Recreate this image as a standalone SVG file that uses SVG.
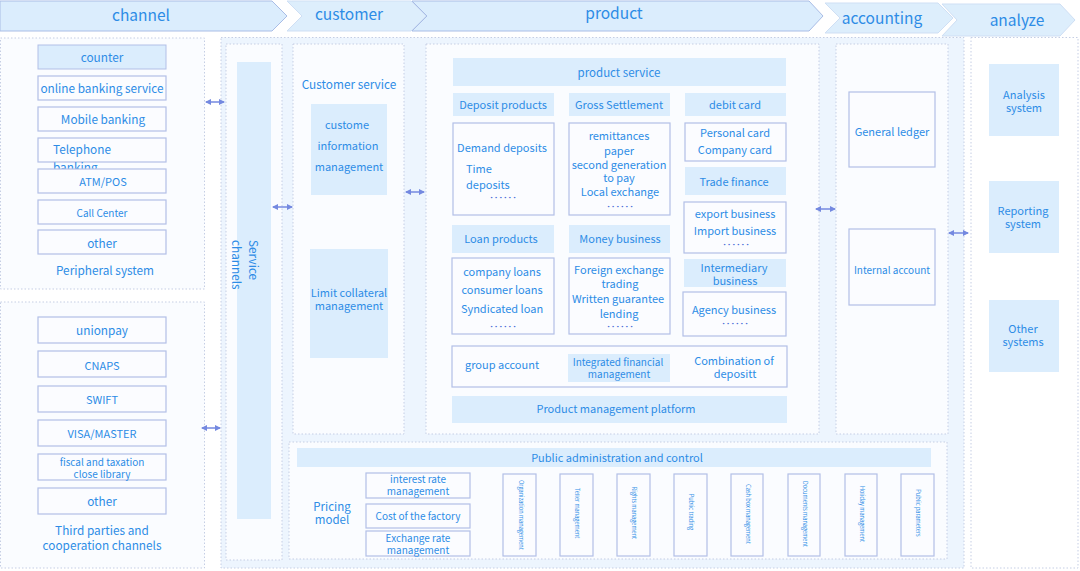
<svg xmlns="http://www.w3.org/2000/svg" width="1080" height="571" viewBox="0 0 1080 571">
<defs>
<style>
text{font-family:"Noto Sans CJK SC","Noto Sans",Lato,sans-serif;fill:#2d8ce6;text-anchor:middle;dominant-baseline:central}
.hd{font-size:15.5px}
.t13{font-size:11.8px}
.t12{font-size:11.5px}
.t11{font-size:11px}
.t10{font-size:10px}
.dots{font-family:Lato,"Liberation Sans",sans-serif;font-size:10px;letter-spacing:2px;fill:#4a6fd8}
.tv{font-size:5.6px}
.panel{fill:#fafcff;stroke:#c5cee4;stroke-width:1;stroke-dasharray:1.5 2}
.outer{fill:#edf5fe;stroke:#c5cee4;stroke-width:1;stroke-dasharray:1.5 2}
.fill{fill:#dbedfd}
.fillb{fill:#dbedfd;stroke:#b2bfe7;stroke-width:1}
.box{fill:#fbfcff;stroke:#b2bfe7;stroke-width:1.2}
.chA{fill:#dbedfd;stroke:#a9bde6;stroke-width:1}
.chB{fill:#ddeefc;stroke:#cfdff4;stroke-width:1}
.conn{stroke:#7489e0;stroke-width:1.5;fill:none;marker-start:url(#ah);marker-end:url(#ah)}
</style>
<marker id="ah" viewBox="0 0 6 6" refX="5" refY="3" markerWidth="4" markerHeight="4" orient="auto-start-reverse">
<path d="M0,0 L6,3 L0,6 Z" fill="#7489e0"/>
</marker>
</defs>

<g id="header">
<path class="chA" d="M0,1 H272 L287,16 L272,31 H0 Z"/>
<text class="hd" x="141" y="14">channel</text>
<path class="chB" d="M287,1 H411 L426,16 L411,31 H287 L302,16 Z"/>
<text class="hd" x="349" y="13">customer</text>
<path class="chA" d="M412,1 H809 L823,16 L809,31 H412 L427,16 Z"/>
<text class="hd" x="614" y="12">product</text>
<path class="chB" d="M825,3 H938 L953,18 L938,33 H825 L840,18 Z"/>
<text class="hd" x="882" y="17">accounting</text>
<path class="chB" d="M942,4 H1060 L1075,20 L1060,36 H942 L957,20 Z"/>
<text class="hd" x="1017" y="19">analyze</text>
</g>

<g id="peripheral">
<rect class="panel" x="0.5" y="38" width="204" height="251"/>
<rect class="fillb" x="38" y="45" width="128" height="24"/><text class="t13" x="102" y="56">counter</text>
<rect class="box" x="38" y="76" width="128" height="24"/><text class="t13" x="102" y="87">online banking service</text>
<rect class="box" x="38" y="107" width="128" height="24"/><text class="t13" x="103" y="118">Mobile banking</text>
<rect class="box" x="38" y="138" width="128" height="24"/><text class="t13" x="53" y="148" style="text-anchor:start">Telephone</text><text class="t13" x="53" y="166" style="text-anchor:start">banking</text>
<rect class="box" x="38" y="169" width="128" height="24"/><text class="t11" x="103" y="181">ATM/POS</text>
<rect class="box" x="38" y="200" width="128" height="24"/><text class="t10" x="102" y="212">Call Center</text>
<rect class="box" x="38" y="230" width="128" height="24"/><text class="t13" x="102" y="242">other</text>
<text class="t13" x="105" y="269">Peripheral system</text>
</g>

<g id="third-parties">
<rect class="panel" x="0.5" y="302" width="204" height="266"/>
<rect class="box" x="38" y="317" width="128" height="26"/><text class="t13" x="102" y="329">unionpay</text>
<rect class="box" x="38" y="351" width="128" height="26"/><text class="t11" x="102" y="365">CNAPS</text>
<rect class="box" x="38" y="386" width="128" height="26"/><text class="t11" x="102" y="399">SWIFT</text>
<rect class="box" x="38" y="420" width="128" height="26"/><text class="t11" x="102" y="433">VISA/MASTER</text>
<rect class="box" x="38" y="454" width="128" height="26"/><text class="t10" x="102" y="461">fiscal and taxation</text><text class="t10" x="102" y="473">close library</text>
<rect class="box" x="38" y="488" width="128" height="26"/><text class="t13" x="102" y="500">other</text>
<text class="t13" x="102" y="529">Third parties and</text>
<text class="t13" x="102" y="544">cooperation channels</text>
</g>

<g id="core">
<rect class="outer" x="221" y="37.5" width="743" height="530.5"/>
</g>

<g id="service-channels">
<rect class="panel" x="226" y="44" width="56" height="516"/>
<rect class="fill" x="237" y="62" width="34" height="457"/>
<text class="t13" transform="translate(249,240) rotate(90)" style="text-anchor:start;dominant-baseline:auto"><tspan x="0" y="0">Service</tspan><tspan x="0" y="17">channels</tspan></text>
</g>

<g id="customer">
<rect class="panel" x="293" y="44" width="111" height="390"/>
<text class="t13" x="349" y="83">Customer service</text>
<rect class="fill" x="311" y="104" width="76" height="91"/>
<text class="t11" x="347" y="124">custome</text>
<text class="t11" x="348" y="145">information</text>
<text class="t11" x="349" y="166">management</text>
<rect class="fill" x="310" y="249" width="78" height="109"/>
<text class="t11" x="349" y="292">Limit collateral</text>
<text class="t11" x="349" y="305">management</text>
</g>

<g id="product">
<rect class="panel" x="426" y="44" width="393" height="390"/>
<rect class="fill" x="453" y="58" width="333" height="28"/><text class="t12" x="619" y="72">product service</text>
<rect class="fill" x="453" y="93" width="101" height="23"/><text class="t11" x="503" y="104">Deposit products</text>
<rect class="fill" x="569" y="93" width="101" height="23"/><text class="t11" x="619" y="104">Gross Settlement</text>
<rect class="fill" x="685" y="93" width="101" height="23"/><text class="t11" x="735" y="104">debit card</text>
<rect class="box" x="453" y="123" width="101" height="92"/>
<text class="t11" x="502" y="147">Demand deposits</text>
<text class="t11" x="466" y="168" style="text-anchor:start">Time</text>
<text class="t11" x="466" y="184" style="text-anchor:start">deposits</text>
<text class="dots" x="504" y="196">······</text>
<rect class="box" x="569" y="123" width="101" height="92"/>
<text class="t11" x="619" y="135">remittances</text>
<text class="t11" x="619" y="150">paper</text>
<text class="t11" x="619" y="164">second generation</text>
<text class="t11" x="619" y="177">to pay</text>
<text class="t11" x="620" y="191">Local exchange</text>
<text class="dots" x="621" y="205">······</text>
<rect class="box" x="685" y="123" width="101" height="38"/>
<text class="t11" x="735" y="132">Personal card</text>
<text class="t11" x="735" y="149">Company card</text>
<rect class="fill" x="685" y="167" width="101" height="28"/><text class="t11" x="734" y="181">Trade finance</text>
<rect class="box" x="684" y="202" width="102" height="51"/>
<text class="t11" x="735" y="213">export business</text>
<text class="t11" x="735" y="230">Import business</text>
<text class="dots" x="737" y="243">······</text>
<rect class="fill" x="452" y="225" width="102" height="28"/><text class="t11" x="501" y="238">Loan products</text>
<rect class="fill" x="569" y="225" width="101" height="28"/><text class="t11" x="620" y="238">Money business</text>
<rect class="fill" x="684" y="259" width="102" height="28"/><text class="t11" x="734" y="267">Intermediary</text><text class="t11" x="735" y="280">business</text>
<rect class="box" x="452" y="258" width="102" height="76"/>
<text class="t11" x="502" y="271">company loans</text>
<text class="t11" x="502" y="289">consumer loans</text>
<text class="t11" x="502" y="308">Syndicated loan</text>
<text class="dots" x="504" y="325">······</text>
<rect class="box" x="569" y="258" width="101" height="76"/>
<text class="t11" x="619" y="269">Foreign exchange</text>
<text class="t11" x="620" y="283">trading</text>
<text class="t11" x="618" y="298">Written guarantee</text>
<text class="t11" x="619" y="313">lending</text>
<text class="dots" x="621" y="325">······</text>
<rect class="box" x="683" y="292" width="103" height="44"/>
<text class="t11" x="734" y="309">Agency business</text>
<text class="dots" x="736" y="322">······</text>
<rect class="box" x="452" y="346" width="335" height="41"/>
<text class="t11" x="502" y="364">group account</text>
<rect class="fill" x="568" y="354" width="102" height="28"/>
<text class="t10" x="618" y="361">Integrated financial</text>
<text class="t10" x="619" y="373">management</text>
<text class="t11" x="734" y="360">Combination of</text>
<text class="t11" x="735" y="373">depositt</text>
<rect class="fill" x="452" y="396" width="335" height="27"/><text class="t11" x="616" y="408">Product management platform</text>
</g>

<g id="accounting">
<rect class="panel" x="836" y="44" width="112" height="390"/>
<rect class="box" x="849" y="92" width="86" height="75"/><text class="t11" x="892" y="131">General ledger</text>
<rect class="box" x="849" y="229" width="86" height="76"/><text class="t10" x="892" y="269">Internal account</text>
</g>

<g id="analyze">
<rect class="panel" x="971" y="37.5" width="107" height="530.5" style="fill:#ffffff"/>
<rect class="fill" x="989" y="64" width="70" height="72"/><text class="t11" x="1024" y="94">Analysis</text><text class="t11" x="1024" y="107">system</text>
<rect class="fill" x="989" y="181" width="70" height="72"/><text class="t11" x="1023" y="210">Reporting</text><text class="t11" x="1023" y="223">system</text>
<rect class="fill" x="989" y="300" width="70" height="72"/><text class="t11" x="1023" y="328">Other</text><text class="t11" x="1023" y="341">systems</text>
</g>

<g id="public-admin">
<rect class="panel" x="289" y="442" width="658" height="117"/>
<rect class="fill" x="297" y="448" width="634" height="19"/><text class="t11" x="617" y="457">Public administration and control</text>
<text class="t12" x="332" y="506">Pricing</text>
<text class="t12" x="332" y="519">model</text>
<rect class="box" x="366" y="473" width="104" height="25"/><text class="t10" x="418" y="478">interest rate</text><text class="t10" x="418" y="490">management</text>
<rect class="box" x="366" y="504" width="104" height="24"/><text class="t10" x="418" y="515">Cost of the factory</text>
<rect class="box" x="366" y="531" width="104" height="25"/><text class="t10" x="418" y="537">Exchange rate</text><text class="t10" x="418" y="549">management</text>
<rect class="box" x="503" y="474" width="33" height="82"/><text class="tv" transform="translate(521,515) rotate(90)">Organization management</text>
<rect class="box" x="560" y="474" width="33" height="82"/><text class="tv" transform="translate(577,513) rotate(90)">Teller management</text>
<rect class="box" x="617" y="474" width="33" height="82"/><text class="tv" transform="translate(634,513) rotate(90)">Rights management</text>
<rect class="box" x="674" y="474" width="33" height="82"/><text class="tv" transform="translate(691,512) rotate(90)">Public trading</text>
<rect class="box" x="731" y="474" width="32" height="82"/><text class="tv" transform="translate(748,514) rotate(90)">Cash box management</text>
<rect class="box" x="788" y="474" width="32" height="82"/><text class="tv" transform="translate(805,514) rotate(90)">Documents management</text>
<rect class="box" x="845" y="474" width="32" height="82"/><text class="tv" transform="translate(862,514) rotate(90)">Holiday management</text>
<rect class="box" x="901" y="474" width="33" height="82"/><text class="tv" transform="translate(918,513) rotate(90)">Public parameters</text>
</g>

<g id="connectors">
<line class="conn" x1="206" y1="102" x2="224" y2="102"/>
<line class="conn" x1="202" y1="428" x2="220" y2="428"/>
<line class="conn" x1="273" y1="207" x2="292" y2="207"/>
<line class="conn" x1="406" y1="192" x2="424" y2="192"/>
<line class="conn" x1="816" y1="209" x2="835" y2="209"/>
<line class="conn" x1="949" y1="233" x2="968" y2="233"/>
</g>
</svg>
